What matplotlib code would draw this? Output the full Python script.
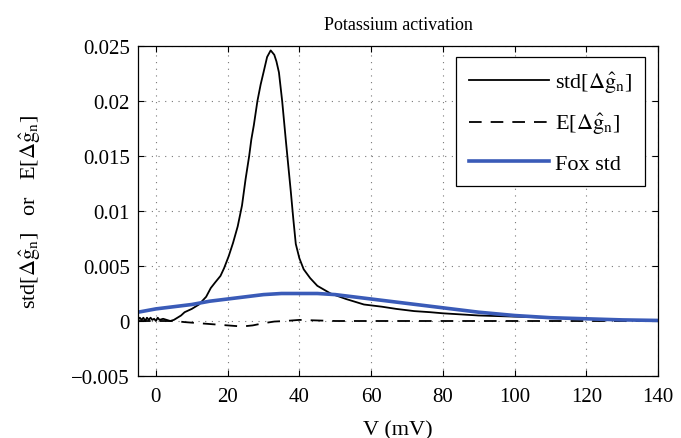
import matplotlib
matplotlib.use("Agg")
import matplotlib.pyplot as plt
import numpy as np

plt.rcParams['font.family'] = ['Liberation Serif', 'DejaVu Serif']
plt.rcParams['mathtext.fontset'] = 'stix'

# std[Δĝ_n]
v_std = [-5, -4.5, -4, -3.5, -3, -2.5, -2, -1.5, -1, -0.5, 0, 0.5, 1, 2, 3, 4, 5, 6, 7, 8, 10, 12, 14,
         15.3, 16.5, 18, 19, 20.3, 21.5, 22.8, 24, 25, 26, 26.6, 27.3, 28.3, 29.2, 30, 31, 32, 33,
         33.6, 34.3, 35.2, 36.2, 37, 37.6, 38.3, 39, 40, 41.2, 43, 45, 48.7, 53, 58, 63, 67, 72, 76.5,
         80, 85, 90, 100, 110, 120, 130, 140]
std_vals = [0.0001, 0.0003, 0.0001, 0.0003, 0.0, 0.0003, 0.0001, 0.0003, 0.0001, 0.0002, 0.0, 0.0003,
            0.0001, 0.0002, 0.0001, 0.0, 0.0001, 0.0003, 0.0005, 0.0008, 0.0011, 0.0015, 0.0022,
            0.0030, 0.0035, 0.0041, 0.0048, 0.0059, 0.0071, 0.0086, 0.0105, 0.0129, 0.0150, 0.0165,
            0.0178, 0.0200, 0.0215, 0.0226, 0.0240, 0.0246, 0.0242, 0.0236, 0.0226, 0.0200, 0.0165,
            0.0138, 0.0118, 0.0093, 0.0070, 0.0057, 0.0047, 0.0039, 0.0032, 0.0025, 0.0020, 0.0015,
            0.0013, 0.0011, 0.0009, 0.0008, 0.0007, 0.0006, 0.0005, 0.0004, 0.0003, 0.0002, 0.0001,
            0.00005]

# E[Δĝ_n]
v_mean = [-5, 0, 5, 8, 12, 16, 20, 24, 27, 30, 33, 36, 40, 50, 60, 80, 100, 120, 140]
mean_vals = [0.0, 0.0, 0.0, -0.0001, -0.0002, -0.0003, -0.0004, -0.0005, -0.0004, -0.0002,
             -0.00005, 0.0, 0.0001, 0.0, 0.0, 0.0, 0.0, 0.0, 0.0]

# Fox std
v_fox = [-5, 0, 5, 10, 15, 20, 25, 30, 35, 40, 45, 50, 55, 60, 65, 70, 75, 80, 90, 100, 110, 120, 130, 140]
fox_vals = [0.0008, 0.0011, 0.0013, 0.0015, 0.0018, 0.0020, 0.0022, 0.0024, 0.0025, 0.0025, 0.0025,
            0.0024, 0.0022, 0.0020, 0.0018, 0.0016, 0.0014, 0.0012, 0.0008, 0.0005, 0.0003, 0.0002,
            0.0001, 0.00005]

x_ticks = [0, 20, 40, 60, 80, 100, 120, 140]
y_ticks = [-0.005, 0, 0.005, 0.01, 0.015, 0.02, 0.025]
y_tick_labels = ['\u22120.005', '0', '0.005', '0.01', '0.015', '0.02', '0.025']

fig = plt.figure(figsize=(6.81, 4.39), dpi=100)
ax = fig.add_axes([138/681, 1-377/439, (658-138)/681, (377-47)/439])

ax.plot(v_std, std_vals, color='black', lw=1.3, label=r'std[$\Delta\hat{\mathrm{g}}_{\mathrm{n}}$]')
ax.plot(v_mean, mean_vals, color='black', lw=1.3, dashes=(7, 5), label=r'E[$\Delta\hat{\mathrm{g}}_{\mathrm{n}}$]')
ax.plot(v_fox, fox_vals, color='#3a5bb8', lw=2.6, label='Fox std')

ax.set_xlim(-5, 140)
ax.set_ylim(-0.005, 0.025)
ax.set_xticks(x_ticks)
ax.set_xticklabels([str(t) for t in x_ticks])
ax.set_yticks(y_ticks)
ax.set_yticklabels(y_tick_labels)
ax.tick_params(direction='in', top=True, right=True, labelsize=15, length=4)
ax.tick_params(axis='x', pad=8)
ax.tick_params(axis='y', pad=6)
ax.grid(True, linestyle=(0, (1, 5)), color='#777777', lw=0.8)
for s in ax.spines.values():
    s.set_linewidth(0.9)

ax.set_title('Potassium activation', fontsize=13, pad=12)
ax.set_xlabel('V (mV)', fontsize=16, labelpad=10)
ax.set_ylabel(r'std[$\Delta\hat{\mathrm{g}}_{\mathrm{n}}$]   or   E[$\Delta\hat{\mathrm{g}}_{\mathrm{n}}$]',
              fontsize=16, labelpad=20)

leg = ax.legend(loc='upper right', fontsize=16, fancybox=False, edgecolor='black',
                handlelength=3.6, handletextpad=0.3, borderpad=0.55, labelspacing=0.75, framealpha=1,
                borderaxespad=0, bbox_to_anchor=((645 - 138) / 520, (377 - 58) / 330))
leg.get_frame().set_linewidth(0.9)

fig.savefig('out.png', dpi=100)
